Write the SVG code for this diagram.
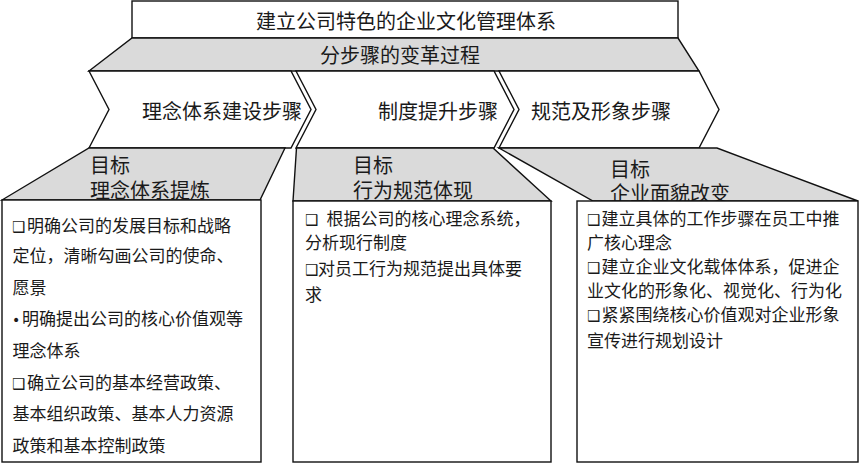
<svg xmlns="http://www.w3.org/2000/svg" width="862" height="464" viewBox="0 0 862 464">
<style>
.s{stroke:#111;stroke-width:1.4;stroke-linejoin:miter}
.w{fill:#fff}
.g{fill:#dadada}
text{font-family:"Noto Sans CJK SC","Noto Sans CJK JP",sans-serif;fill:#1a1a1a}
.t20{font-size:20px}
.t17{font-size:17px}
.cb{font-family:"DejaVu Sans",sans-serif;font-size:15px;font-weight:bold}
.bu{font-family:"DejaVu Sans",sans-serif;font-size:14px}
</style>
<rect width="862" height="464" fill="#fff"/>
<g id="title">
<rect class="s w" x="132" y="1" width="546" height="37"/>
<text class="t20" x="406" y="29" text-anchor="middle">建立公司特色的企业文化管理体系</text>
</g>
<g id="process">
<polygon class="s g" points="132,38 678,38 699,71 89,71"/>
<text class="t20" x="400" y="63" text-anchor="middle">分步骤的变革过程</text>
</g>
<g id="connectors">
<polygon class="s w" points="89,71 291,71 311,109.5 291,148 89,148 109,109.5"/>
<polygon class="s w" points="296,71 494,71 514,109.5 494,148 296,148 316,109.5"/>
<polygon class="s w" points="499,71 699,71 719,109.5 699,148 499,148 519,109.5"/>
</g>
<g id="step1">
<text class="t20" x="142" y="118.5">理念体系建设步骤</text>
</g>
<g id="step2">
<text class="t20" x="378" y="118.5">制度提升步骤</text>
</g>
<g id="step3">
<text class="t20" x="531" y="118.5">规范及形象步骤</text>
</g>
<g id="goal1">
<polygon class="s g" points="89,148 285,148 260,200 2,200"/>
<text class="t20"><tspan x="90" y="173">目标</tspan><tspan x="90" y="198">理念体系提炼</tspan></text>
<rect class="s w" x="2" y="200" width="259" height="262"/>
<text class="t17" y="231.5"><tspan class="cb" x="12">❑</tspan><tspan x="27">明确公司的发展目标和战略</tspan></text>
<text class="t17" x="12.5" y="261.5">定位，清晰勾画公司的使命、</text>
<text class="t17" x="12.5" y="293.5">愿景</text>
<text class="t17" y="324.5"><tspan class="bu" x="12">•</tspan><tspan x="22">明确提出公司的核心价值观等</tspan></text>
<text class="t17" x="12.5" y="356.5">理念体系</text>
<text class="t17" y="388.5"><tspan class="cb" x="12">❑</tspan><tspan x="27">确立公司的基本经营政策、</tspan></text>
<text class="t17" x="12.5" y="419.5">基本组织政策、基本人力资源</text>
<text class="t17" x="12.5" y="451.5">政策和基本控制政策</text>
</g>
<g id="goal2">
<polygon class="s g" points="296.5,148 493,148 551,201 293,201"/>
<text class="t20"><tspan x="353" y="172.5">目标</tspan><tspan x="353" y="197.5">行为规范体现</tspan></text>
<rect class="s w" x="293" y="201" width="258" height="261"/>
<text class="t17" y="224.5"><tspan class="cb" x="305">❑</tspan><tspan x="326.5">根据公司的核心理念系统，</tspan></text>
<text class="t17" x="305" y="248.5">分析现行制度</text>
<text class="t17" y="274.5"><tspan class="cb" x="305">❑</tspan><tspan x="318">对员工行为规范提出具体要</tspan></text>
<text class="t17" x="305" y="300.5">求</text>
</g>
<g id="goal3">
<polygon class="s g" points="499,148 717,148 858,201 593,201"/>
<text class="t20"><tspan x="610" y="177">目标</tspan><tspan x="610" y="201">企业面貌改变</tspan></text>
<rect class="s w" x="577" y="201" width="281" height="261"/>
<text class="t17" y="224.5"><tspan class="cb" x="587">❑</tspan><tspan x="601.5">建立具体的工作步骤在员工中推</tspan></text>
<text class="t17" x="587" y="248.5">广核心理念</text>
<text class="t17" y="272.5"><tspan class="cb" x="587">❑</tspan><tspan x="601.5">建立企业文化载体体系，促进企</tspan></text>
<text class="t17" x="587" y="296.5">业文化的形象化、视觉化、行为化</text>
<text class="t17" y="320.5"><tspan class="cb" x="587">❑</tspan><tspan x="601.5">紧紧围绕核心价值观对企业形象</tspan></text>
<text class="t17" x="587" y="346.5">宣传进行规划设计</text>
</g>
</svg>
